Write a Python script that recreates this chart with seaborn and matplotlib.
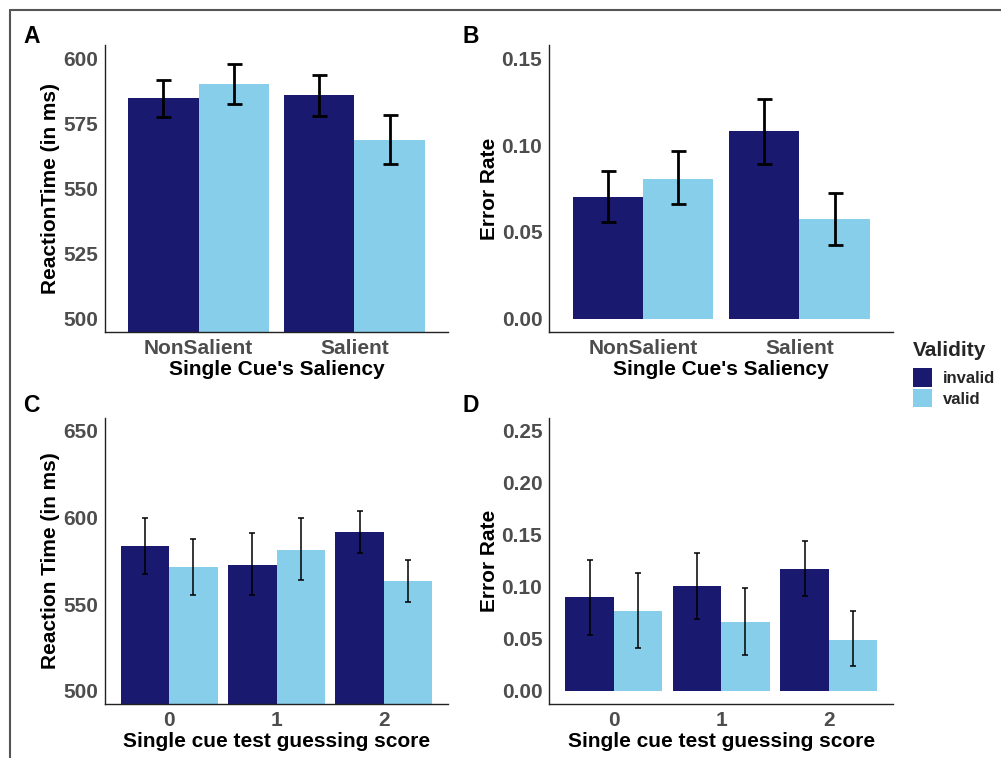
import numpy as np
import pandas as pd
import matplotlib
matplotlib.use("Agg")
import matplotlib.pyplot as plt
from matplotlib.patches import Patch
from matplotlib.lines import Line2D
import seaborn as sns

# ---------------- data ----------------
validity_levels = ["invalid", "valid"]
saliency_levels = ["NonSalient", "Salient"]
guess_levels = ["0", "1", "2"]

# Panel A: reaction time by single cue's saliency
rt_sal_invalid = [584.5, 585.7]
rt_sal_valid = [590.0, 568.5]
rt_sal_invalid_lo = [577.4, 577.7]
rt_sal_invalid_hi = [591.7, 593.6]
rt_sal_valid_lo = [582.3, 559.2]
rt_sal_valid_hi = [597.9, 578.1]

# Panel B: error rate by single cue's saliency
er_sal_invalid = [0.0702, 0.1080]
er_sal_valid = [0.0807, 0.0574]
er_sal_invalid_lo = [0.0557, 0.0893]
er_sal_invalid_hi = [0.0853, 0.1265]
er_sal_valid_lo = [0.0660, 0.0424]
er_sal_valid_hi = [0.0963, 0.0727]

# Panel C: reaction time by guessing score
rt_gs_invalid = [583.5, 572.8, 591.4]
rt_gs_valid = [571.3, 581.4, 563.1]
rt_gs_invalid_lo = [567.3, 555.1, 579.4]
rt_gs_invalid_hi = [599.8, 590.8, 603.8]
rt_gs_valid_lo = [555.3, 564.0, 551.3]
rt_gs_valid_hi = [587.4, 599.8, 575.5]

# Panel D: error rate by guessing score
er_gs_invalid = [0.0902, 0.1003, 0.1175]
er_gs_valid = [0.0771, 0.0666, 0.0494]
er_gs_invalid_lo = [0.0539, 0.0691, 0.0911]
er_gs_invalid_hi = [0.1260, 0.1328, 0.1436]
er_gs_valid_lo = [0.0417, 0.0348, 0.0239]
er_gs_valid_hi = [0.1134, 0.0988, 0.0764]

# tick values
rt_sal_ticks = [500, 525, 550, 575, 600]
er_sal_ticks = [0.00, 0.05, 0.10, 0.15]
rt_gs_ticks = [500, 550, 600, 650]
er_gs_ticks = [0.00, 0.05, 0.10, 0.15, 0.20, 0.25]

palette = {"invalid": "#191970", "valid": "#87CEEB"}

# ---------------- style ----------------
sns.set_style("white")
plt.rcParams["font.family"] = ["Liberation Sans", "DejaVu Sans"]
plt.rcParams["font.weight"] = "bold"
plt.rcParams["axes.labelweight"] = "bold"

W, H = 1001, 758
fig = plt.figure(figsize=(W / 100, H / 100), dpi=100)
fig.patch.set_facecolor("white")


def add_ax(left, top, right, bottom):
    return fig.add_axes([left / W, 1 - bottom / H, (right - left) / W, (bottom - top) / H])


def panel(ax, cats, inv, val, inv_lo, inv_hi, val_lo, val_hi, ylim, yticks, fmt,
          xlabel, ylabel, capsize, elw):
    n = len(cats)
    df = pd.DataFrame({
        "cat": list(cats) * 2,
        "Validity": ["invalid"] * n + ["valid"] * n,
        "value": list(inv) + list(val),
    })
    sns.barplot(data=df, x="cat", y="value", hue="Validity", order=cats,
                hue_order=validity_levels, palette=palette, width=0.9,
                saturation=1, errorbar=None, legend=False, ax=ax, linewidth=0)
    # error bars placed at the centre of each dodged bar
    bars = ax.patches
    for k, (lo, hi) in enumerate([(inv_lo, inv_hi), (val_lo, val_hi)]):
        xs = [bars[k * n + i].get_x() + bars[k * n + i].get_width() / 2 for i in range(n)]
        lo = np.array(lo)
        hi = np.array(hi)
        ax.errorbar(xs, (lo + hi) / 2, yerr=(hi - lo) / 2, fmt="none",
                    ecolor="black", elinewidth=elw, capsize=capsize,
                    capthick=elw, zorder=5)
    ax.set_xlim(-0.6, n - 0.4)
    ax.set_ylim(*ylim)
    ax.set_yticks(yticks, labels=[fmt.format(v) for v in yticks])
    ax.set_xlabel(xlabel, fontsize=15, color="black", labelpad=1.5)
    ax.set_ylabel(ylabel, fontsize=15, color="black", labelpad=2)
    sns.despine(ax=ax)
    for s in ("left", "bottom"):
        ax.spines[s].set_color("#222222")
        ax.spines[s].set_linewidth(1.0)
    ax.tick_params(axis="both", length=3, width=0.9, color="#333333",
                   labelcolor="#4D4D4D", labelsize=15, pad=2)
    ax.set_facecolor("white")


axA = add_ax(105, 45, 448, 332)
axB = add_ax(549.3, 45, 893.3, 332)
axC = add_ax(105, 417.5, 448, 704)
axD = add_ax(549.3, 417.5, 893.3, 704)

panel(axA, saliency_levels, rt_sal_invalid, rt_sal_valid, rt_sal_invalid_lo,
      rt_sal_invalid_hi, rt_sal_valid_lo, rt_sal_valid_hi, (495, 605),
      rt_sal_ticks, "{:.0f}", "Single Cue's Saliency", "ReactionTime (in ms)", 5.4, 2.0)
panel(axB, saliency_levels, er_sal_invalid, er_sal_valid, er_sal_invalid_lo,
      er_sal_invalid_hi, er_sal_valid_lo, er_sal_valid_hi, (-0.0075, 0.1575),
      er_sal_ticks, "{:.2f}", "Single Cue's Saliency", "Error Rate", 5.4, 2.0)
panel(axC, guess_levels, rt_gs_invalid, rt_gs_valid, rt_gs_invalid_lo,
      rt_gs_invalid_hi, rt_gs_valid_lo, rt_gs_valid_hi, (492.5, 657.5),
      rt_gs_ticks, "{:.0f}", "Single cue test guessing score", "Reaction Time (in ms)", 2.0, 1.1)
panel(axD, guess_levels, er_gs_invalid, er_gs_valid, er_gs_invalid_lo,
      er_gs_invalid_hi, er_gs_valid_lo, er_gs_valid_hi, (-0.0125, 0.2625),
      er_gs_ticks, "{:.2f}", "Single cue test guessing score", "Error Rate", 2.0, 1.1)

# panel letters
for letter, x, y in [("A", 23, 42.7), ("B", 462, 42.7), ("C", 23, 412.5), ("D", 462, 412.5)]:
    fig.text(x / W, 1 - y / H, letter, fontsize=16.5, fontweight="bold",
             color="black", ha="left", va="baseline")

# legend
handles = [Patch(facecolor=palette[v], edgecolor="none", label=v) for v in validity_levels]
leg = fig.legend(handles=handles, title="Validity", loc="upper left",
                 bbox_to_anchor=(913 / W, 1 - 341 / H), frameon=False, borderpad=0,
                 borderaxespad=0, prop={"size": 12, "weight": "bold"},
                 title_fontproperties={"size": 15, "weight": "bold"},
                 handlelength=1.12, handleheight=1.315, handletextpad=0.7,
                 labelspacing=0.14, alignment="left")
leg._legend_box.sep = 6.0

# outer frame (top and left edges visible)
fig.add_artist(Line2D([10 / W, 1.0], [1 - 10 / H, 1 - 10 / H], transform=fig.transFigure,
                      color="#555555", linewidth=1.5))
fig.add_artist(Line2D([10 / W, 10 / W], [0.0, 1 - 10 / H], transform=fig.transFigure,
                      color="#555555", linewidth=1.5))

fig.savefig("out.png", dpi=100, facecolor="white")
